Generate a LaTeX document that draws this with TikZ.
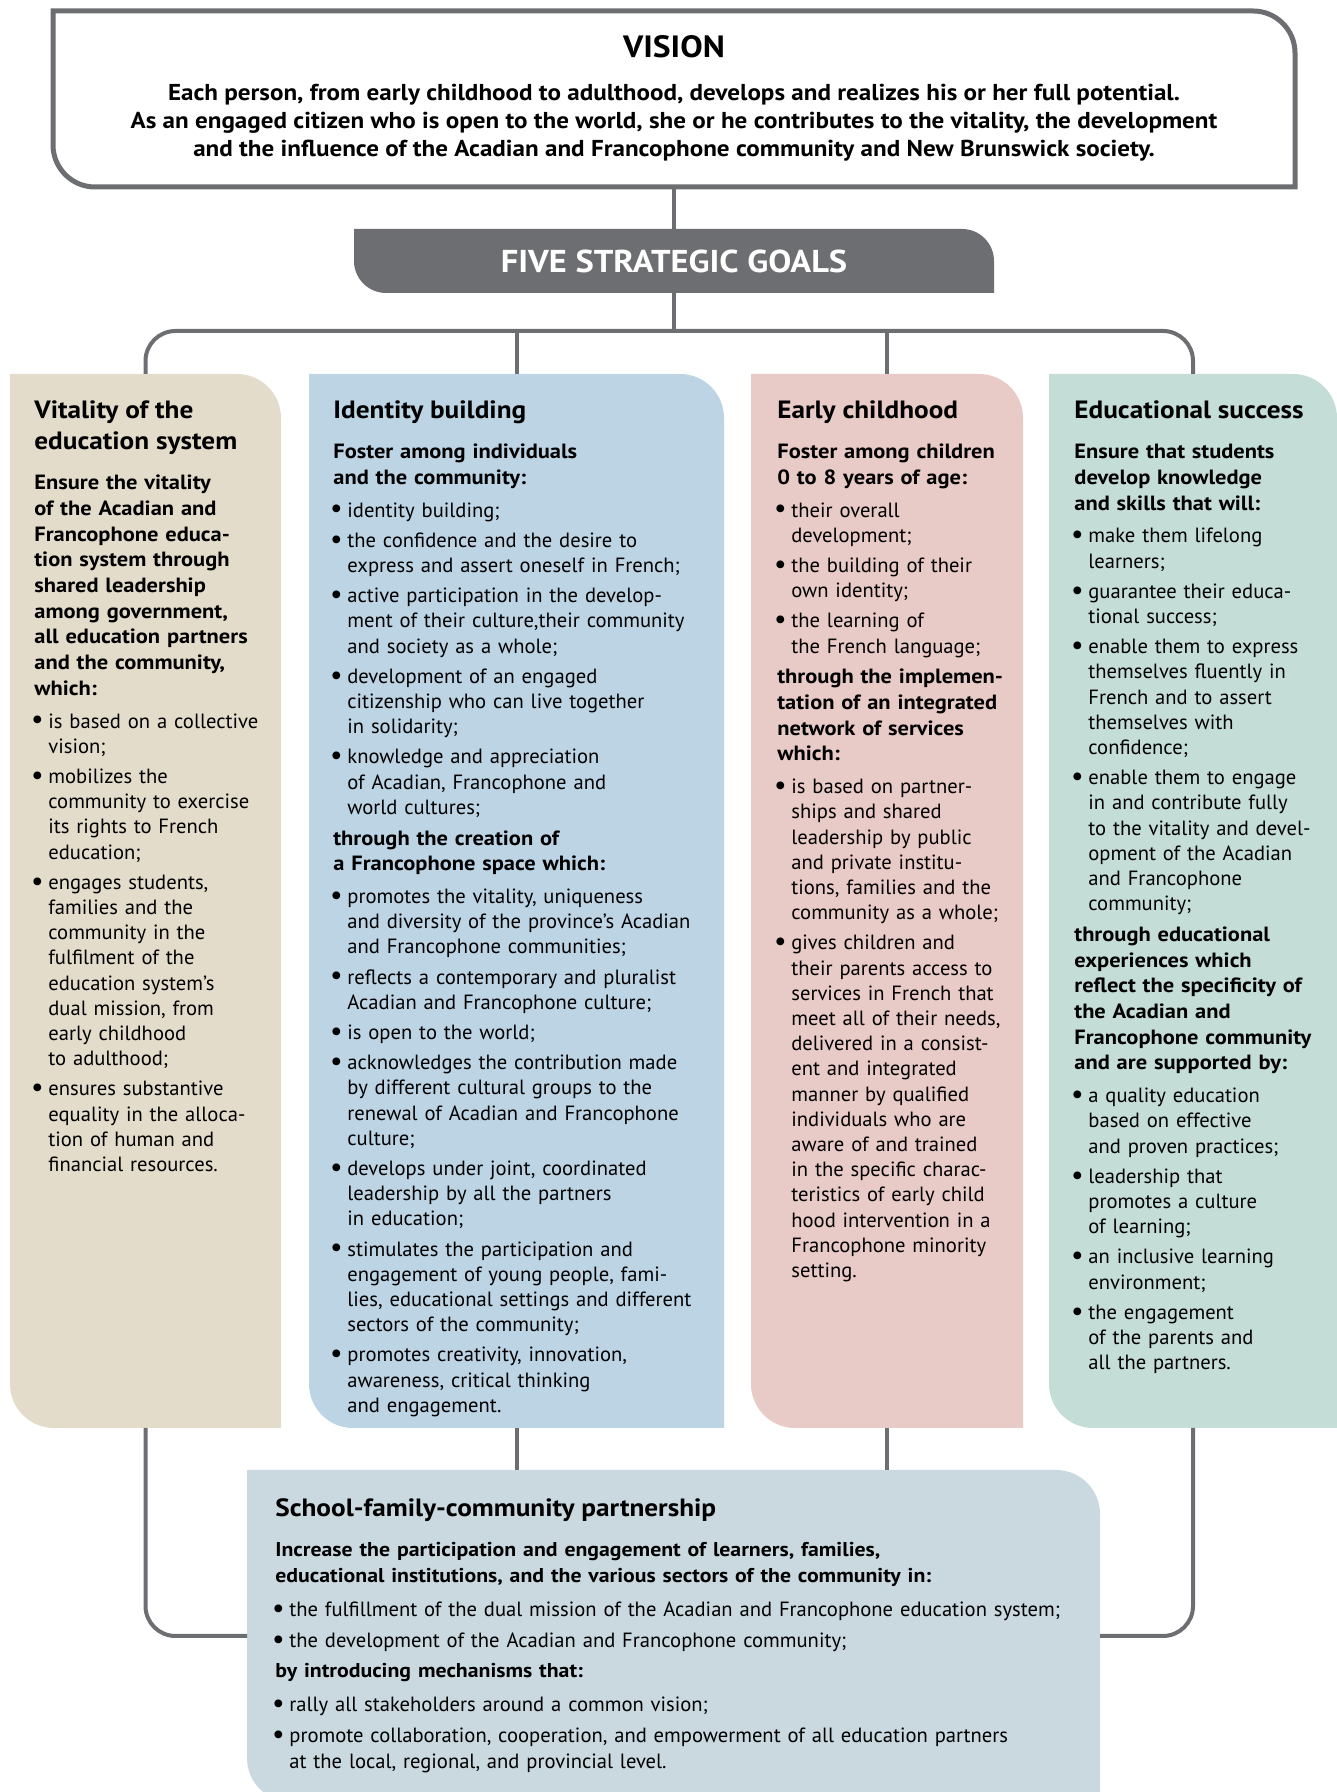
\documentclass[tikz,border=0pt]{standalone}
\usepackage{fontspec}
\setmainfont{PT Sans}[BoldFeatures={FakeStretch=1.09}]
\usetikzlibrary{positioning,backgrounds}

\definecolor{linegray}{HTML}{6D6E71}
\definecolor{beige}{HTML}{E3DCCB}
\definecolor{paleblue}{HTML}{BDD4E4}
\definecolor{palepink}{HTML}{E8CAC6}
\definecolor{palegreen}{HTML}{C5DDD7}
\definecolor{palegray}{HTML}{C9D9DF}

% leaf shape: sharp top left and bottom right, round top right and bottom left
\newcommand{\leaf}[3]{%
  \path[#3] (#1.north west) -- ([xshift=-#2]#1.north east)
    arc[start angle=90, end angle=0, radius=#2] -- (#1.south east)
    -- ([xshift=#2]#1.south west) arc[start angle=270, end angle=180, radius=#2] -- cycle;}

% text blocks inside the goal columns
\newcommand{\ttl}[1]{{\fontsize{12.5}{15.5}\selectfont\bfseries #1\par}\vspace{7.4pt}}
\newcommand{\lead}[1]{{\bfseries\baselineskip=12.85pt #1\par}\vspace{3.8pt}}
\newcommand{\bigdot}{\raisebox{-0.4pt}{\scalebox{1.35}{\textbullet}}}
\newcommand{\itm}[1]{{\leftskip=7pt\noindent\llap{\bigdot\hspace{2.3pt}}#1\par}\vspace{2.5pt}}

\begin{document}
\begin{tikzpicture}[
  x=1pt, y=1pt,
  box/.style={inner sep=0pt, outer sep=0pt},
  col/.style={box, minimum height=527pt},
  txt/.style={inner sep=0pt, text width=#1, align=left, font=\fontsize{10.3}{12.6}\selectfont},
  link/.style={draw=linegray, line width=2pt},
  elbow/.style={link, rounded corners=15pt}
]
\useasboundingbox (0,0) rectangle (668.5,896);

% Vision
\node[box, minimum width=621pt, minimum height=88pt] (vision) at (337,846.5) {};
\node[box, font=\fontsize{15.4}{17}\selectfont\bfseries, below=12.5pt of vision.north] (visiontitle) {VISION};
\node[box, align=center, font=\fontsize{11.5}{14}\selectfont\bfseries, below=13pt of visiontitle] (visiontext)
  {Each person, from early childhood to adulthood, develops and realizes his or her full potential.\\
   As an engaged citizen who is open to the world, she or he contributes to the vitality, the development\\
   and the influence of the Acadian and Francophone community and New Brunswick society.};

% Five strategic goals
\node[box, minimum width=320pt, minimum height=32pt, text=white, font=\fontsize{15.8}{17}\selectfont\bfseries] (goals) at (337,765.5) {FIVE STRATEGIC GOALS};
\coordinate (hub) at (337,730.5);

% Columns
\node[col, minimum width=135.5pt] (vital) at (72.75,445.5) {};
\node[col, minimum width=207.5pt] (ident) at (258.25,445.5) {};
\node[col, minimum width=136pt] (early) at (443.5,445.5) {};
\node[col, minimum width=144pt] (succ) at (596.5,445.5) {};

\node[txt=130pt, below right=13pt and 12pt of vital.north west] (vitaltxt) {%
\ttl{Vitality of the\\education system}
\lead{Ensure the vitality\\of the Acadian and\\Francophone educa-\\tion system through\\shared leadership\\among government,\\all education partners\\and the community,\\which:}
\itm{is based on a collective\\vision;}
\itm{mobilizes the\\community to exercise\\its rights to French\\education;}
\itm{engages students,\\families and the\\community in the\\fulfilment of the\\education system's\\dual mission, from\\early childhood\\to adulthood;}
\itm{ensures substantive\\equality in the alloca-\\tion of human and\\financial resources.}};

\node[txt=200pt, below right=13pt and 12pt of ident.north west] (identtxt) {%
\ttl{Identity building}
\lead{Foster among individuals\\and the community:}
\itm{identity building;}
\itm{the confidence and the desire to\\express and assert oneself in French;}
\itm{active participation in the develop-\\ment of their culture,their community\\and society as a whole;}
\itm{development of an engaged\\citizenship who can live together\\in solidarity;}
\itm{knowledge and appreciation\\of Acadian, Francophone and\\world cultures;}
\lead{through the creation of\\a Francophone space which:}
\itm{promotes the vitality, uniqueness\\and diversity of the province's Acadian\\and Francophone communities;}
\itm{reflects a contemporary and pluralist\\Acadian and Francophone culture;}
\itm{is open to the world;}
\itm{acknowledges the contribution made\\by different cultural groups to the\\renewal of Acadian and Francophone\\culture;}
\itm{develops under joint, coordinated\\leadership by all the partners\\in education;}
\itm{stimulates the participation and\\engagement of young people, fami-\\lies, educational settings and different\\sectors of the community;}
\itm{promotes creativity, innovation,\\awareness, critical thinking\\and engagement.}};

\node[txt=130pt, below right=13pt and 13pt of early.north west] (earlytxt) {%
\ttl{Early childhood}
\lead{Foster among children\\0 to 8 years of age:}
\itm{their overall\\development;}
\itm{the building of their\\own identity;}
\itm{the learning of\\the French language;}
\lead{through the implemen-\\tation of an integrated\\network of services\\which:}
\itm{is based on partner-\\ships and shared\\leadership by public\\and private institu-\\tions, families and the\\community as a whole;}
\itm{gives children and\\their parents access to\\services in French that\\meet all of their needs,\\delivered in a consist-\\ent and integrated\\manner by qualified\\individuals who are\\aware of and trained\\in the specific charac-\\teristics of early child\\hood intervention in a\\Francophone minority\\setting.}};

\node[txt=135pt, below right=13pt and 12.5pt of succ.north west] (succtxt) {%
\ttl{Educational success}
\lead{Ensure that students\\develop knowledge\\and skills that will:}
\itm{make them lifelong\\learners;}
\itm{guarantee their educa-\\tional success;}
\itm{enable them to express\\themselves fluently in\\French and to assert\\themselves with\\confidence;}
\itm{enable them to engage\\in and contribute fully\\to the vitality and devel-\\opment of the Acadian\\and Francophone\\community;}
\lead{through educational\\experiences which\\reflect the specificity of\\the Acadian and\\Francophone community\\and are supported by:}
\itm{a quality education\\based on effective\\and proven practices;}
\itm{leadership that\\promotes a culture\\of learning;}
\itm{an inclusive learning\\environment;}
\itm{the engagement\\of the parents and\\all the partners.}};

% Partnership
\node[box, minimum width=426.5pt, minimum height=166pt] (partner) at (336.75,78) {};
\node[txt=410pt, font=\fontsize{10.3}{13}\selectfont, below right=14pt and 14pt of partner.north west] (partnertxt) {%
{\fontsize{12.5}{14}\selectfont\bfseries School-family-community partnership\par}\vspace{7.5pt}
{\fontsize{10}{13}\selectfont\lead{Increase the participation and engagement of learners, families,\\educational institutions, and the various sectors of the community in:}}
\itm{the fulfillment of the dual mission of the Acadian and Francophone education system;}
\itm{the development of the Acadian and Francophone community;}
{\fontsize{10}{13}\selectfont\lead{by introducing mechanisms that:}}
\itm{rally all stakeholders around a common vision;}
\itm{promote collaboration, cooperation, and empowerment of all education partners\\at the local, regional, and provincial level.}};

% Connectors
\draw[link] (vision.south) -- (goals.north);
\draw[link] (goals.south) -- (hub);
\draw[elbow] (vital.north) |- (hub) -| (succ.north);
\draw[link] (ident.north) -- (ident.north |- hub);
\draw[link] (early.north) -- (early.north |- hub);
\draw[link] (ident.south) -- (ident.south |- partner.north);
\draw[link] (early.south) -- (early.south |- partner.north);
\draw[elbow] (vital.south) |- (partner.west);
\draw[elbow] (succ.south) |- (partner.east);

% Shapes behind the text
\begin{scope}[on background layer]
  \leaf{vision}{21pt}{draw=linegray, line width=2.5pt, fill=white}
  \leaf{goals}{16pt}{fill=linegray}
  \leaf{vital}{22pt}{fill=beige}
  \leaf{ident}{22pt}{fill=paleblue}
  \leaf{early}{22pt}{fill=palepink}
  \leaf{succ}{22pt}{fill=palegreen}
  \leaf{partner}{22pt}{fill=palegray}
\end{scope}
\end{tikzpicture}
\end{document}
